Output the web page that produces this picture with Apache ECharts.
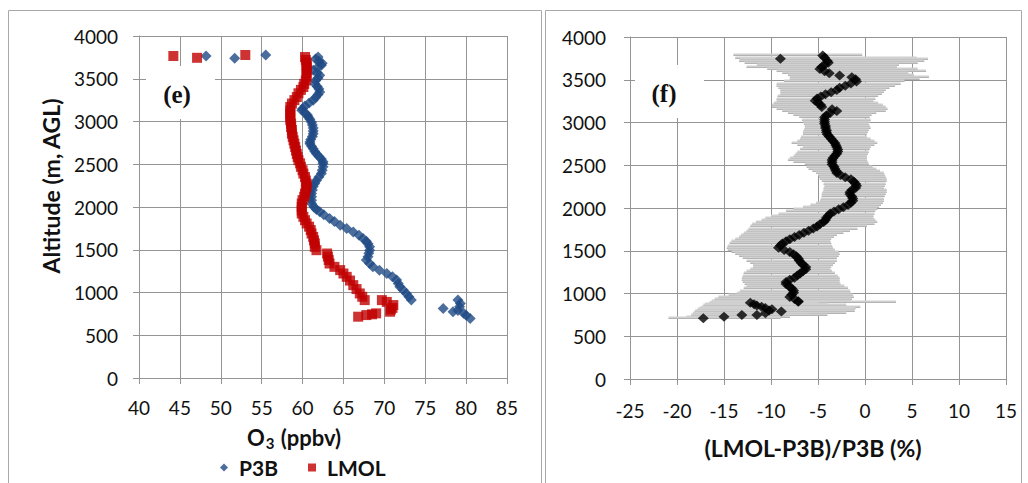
<!DOCTYPE html>
<html>
<head>
<meta charset="utf-8">
<script src="https://cdn.jsdelivr.net/npm/echarts@6/dist/echarts.min.js"></script>
<style>
  html, body { margin: 0; padding: 0; background: #fff; }
  #chart { width: 1028px; height: 483px; }
</style>
</head>
<body>
<div id="chart"></div>
<script>
// ---- Panel (e): ozone profiles, each point is [O3 ppbv, altitude m AGL] ----
const p3bProfile = [
  [55.5,3778],[48.2,3766],[51.7,3740],
  [61.9,3754],[61.6,3730],[62.0,3705],[62.4,3680],[62.3,3657],[61.8,3630],[61.3,3598],
  [61.8,3570],[62.1,3540],[61.9,3510],[61.6,3480],[61.5,3442],[61.8,3410],[62.0,3380],
  [62.1,3345],[61.9,3315],[61.6,3280],[61.3,3248],[60.8,3215],[60.3,3180],[60.0,3150],
  [59.9,3131],[60.3,3100],[60.6,3075],[60.7,3053],[60.9,3025],[61.1,2990],[61.2,2960],
  [61.3,2925],[61.3,2890],[61.3,2858],[61.2,2825],[61.0,2790],[60.9,2760],[60.9,2741],
  [61.1,2710],[61.3,2680],[61.5,2650],[61.7,2624],[62.0,2590],[62.3,2560],[62.5,2530],
  [62.5,2508],[62.5,2470],[62.4,2430],[62.3,2391],[62.0,2350],[61.7,2310],[61.5,2274],
  [61.3,2240],[61.2,2200],[61.1,2157],[61.1,2120],[61.1,2080],[61.1,2040],[61.4,2000],
  [61.7,1970],[62.1,1943],[62.6,1910],[63.3,1866],[63.9,1830],[64.6,1787],[65.4,1750],
  [66.2,1709],[66.9,1670],[67.4,1632],[67.8,1600],[68.0,1570],[68.2,1534],[68.2,1495],
  [68.1,1460],[68.0,1417],[67.8,1379],[68.2,1340],[68.6,1300],[69.4,1260],[70.3,1222],
  [71.0,1185],[71.5,1145],[71.7,1105],[71.9,1067],[72.3,1030],[72.7,989],[73.0,950],
  [73.3,911],
  [79.0,911],[79.3,870],[79.2,833],[77.2,814],[79.0,790],[78.4,775],[79.7,756],
  [80.0,735],[80.5,697]
];

const lmolProfile = [
  [53.0,3778],[44.2,3766],[47.1,3745],
  [60.3,3754],[60.4,3720],[60.5,3690],[60.5,3660],[60.5,3637],[60.5,3600],[60.5,3560],
  [60.5,3520],[60.4,3480],[60.2,3440],[60.1,3403],[59.8,3370],[59.5,3330],[59.3,3286],
  [59.0,3250],[58.7,3210],[58.5,3170],[58.5,3130],[58.5,3090],[58.5,3050],[58.5,3014],
  [58.6,2975],[58.6,2935],[58.7,2900],[58.7,2858],[58.8,2820],[58.9,2780],[59.0,2740],
  [59.1,2702],[59.2,2660],[59.3,2620],[59.4,2585],[59.5,2547],[59.7,2510],[59.8,2470],
  [60.0,2430],[60.1,2391],[60.3,2350],[60.4,2310],[60.5,2274],[60.5,2240],[60.4,2200],
  [60.3,2157],[60.2,2120],[60.0,2080],[59.9,2040],[59.9,2000],[59.9,1960],[59.9,1924],
  [60.1,1885],[60.3,1845],[60.5,1807],[60.8,1770],[61.0,1730],[61.1,1690],[61.3,1650],
  [61.4,1610],[61.5,1574],[61.5,1534],[61.7,1495],
  [63.0,1456],[63.1,1420],[63.2,1380],[63.3,1339],[63.9,1300],[64.6,1262],[65.0,1222],
  [65.4,1183],[65.8,1140],[66.2,1086],[66.6,1040],[67.0,989],[67.3,950],[67.6,911],
  [69.7,911],[70.3,890],[71.1,853],[71.0,820],[70.8,800],[70.7,775],[69.0,756],
  [68.5,745],[67.8,736],[66.8,717]
];

// ---- Panel (f): relative difference (%), rows are [altitude m, difference, range low, range high] ----
const diffRows = [
  [3785,-4.5,-14.0,-0.3],[3760,-4.3,-13.8,5.5],[3746,-9.0,-13.3,6.7],[3720,-4.0,-13.4,6.3],
  [3700,-3.9,-12.8,5.6],[3675,-4.3,-11.5,3.6],[3650,-4.6,-12.6,3.4],[3625,-4.8,-10.4,5.6],
  [3600,-4.3,-9.4,6.5],[3575,-3.8,-8.8,4.6],[3550,-2.7,-8.2,5.2],[3530,-1.4,-8.0,6.8],
  [3505,-1.0,-8.0,5.8],[3480,-0.9,-8.6,4.2],[3455,-1.5,-9.4,3.8],[3430,-2.1,-9.4,3.2],
  [3405,-2.7,-9.2,2.6],[3380,-3.0,-9.0,2.2],[3355,-3.6,-9.0,2.0],[3330,-4.2,-9.0,1.8],
  [3305,-4.7,-9.3,1.4],[3280,-5.1,-9.4,1.1],[3255,-5.3,-9.4,0.9],[3230,-5.0,-9.7,1.4],
  [3205,-4.7,-9.9,1.9],[3180,-4.6,-9.9,2.2],[3155,-3.5,-9.4,2.4],[3135,-3.0,-8.8,2.2],
  [3110,-3.7,-8.2,1.2],[3085,-4.1,-7.6,0.7],[3060,-4.3,-7.0,0.5],[3035,-4.3,-6.7,0.6],
  [3010,-4.3,-6.6,0.5],[2985,-4.3,-6.5,0.4],[2960,-4.2,-6.4,0.5],[2935,-4.2,-6.4,0.6],
  [2910,-4.1,-6.5,0.4],[2885,-4.1,-6.6,0.3],[2860,-4.0,-6.6,0.2],[2835,-3.8,-6.8,0.2],
  [2810,-3.6,-6.9,0.6],[2785,-3.4,-7.2,1.0],[2760,-3.2,-7.8,1.3],[2735,-3.1,-7.2,1.0],
  [2710,-3.0,-6.6,0.6],[2685,-2.9,-6.9,0.5],[2660,-2.9,-7.2,0.4],[2635,-3.0,-7.4,0.3],
  [2610,-3.2,-7.6,0.2],[2585,-3.4,-8.0,0.2],[2560,-3.5,-8.2,0.2],[2535,-3.5,-7.6,0.3],
  [2510,-3.5,-6.4,0.4],[2485,-3.3,-6.2,0.8],[2460,-3.2,-6.0,1.2],[2435,-3.1,-5.6,1.6],
  [2410,-3.0,-5.2,2.0],[2385,-2.6,-5.0,2.1],[2360,-2.1,-4.9,2.2],[2335,-1.5,-4.8,2.3],
  [2310,-1.2,-4.6,2.3],[2285,-1.0,-4.4,2.2],[2260,-0.9,-4.3,2.1],[2235,-1.0,-4.4,2.0],
  [2210,-1.4,-4.4,2.3],[2185,-1.6,-4.5,2.3],[2160,-1.6,-4.6,2.2],[2135,-1.4,-4.6,2.1],
  [2110,-1.3,-4.7,2.0],[2085,-1.3,-4.8,2.0],[2060,-1.5,-5.2,1.9],[2035,-1.8,-5.8,1.7],
  [2010,-2.3,-6.6,1.5],[1985,-2.8,-7.6,1.3],[1960,-3.3,-8.4,1.1],[1935,-3.7,-9.2,1.0],
  [1910,-3.9,-10.0,0.9],[1885,-4.1,-10.6,0.9],[1860,-4.2,-11.0,1.1],[1835,-4.4,-11.6,1.3],
  [1810,-4.8,-12.0,1.0],[1785,-5.1,-12.2,0.2],[1760,-5.5,-12.4,-0.8],[1735,-6.0,-12.6,-1.6],
  [1710,-6.5,-12.9,-2.3],[1685,-7.0,-13.2,-3.0],[1660,-7.5,-13.4,-3.3],[1635,-8.0,-13.8,-3.6],
  [1610,-8.4,-14.2,-3.7],[1585,-8.8,-14.4,-3.6],[1560,-9.0,-14.6,-3.5],[1535,-9.2,-14.7,-3.4],
  [1510,-8.6,-14.6,-3.2],[1485,-8.0,-14.2,-2.8],[1460,-7.6,-13.8,-2.7],[1435,-7.3,-13.4,-2.8],
  [1410,-7.1,-13.0,-3.0],[1385,-7.0,-12.6,-3.0],[1360,-6.8,-12.2,-3.2],[1335,-6.6,-11.9,-3.4],
  [1310,-6.3,-11.9,-3.6],[1285,-6.3,-12.2,-3.7],[1260,-6.6,-12.6,-3.5],[1235,-6.9,-12.9,-3.2],
  [1210,-7.2,-13.0,-2.9],[1185,-7.5,-13.1,-2.7],[1160,-8.0,-13.1,-2.7],[1135,-8.4,-13.0,-2.7],
  [1110,-8.4,-12.8,-2.6],[1085,-8.1,-12.6,-2.2],[1060,-7.8,-12.9,-1.8],[1035,-7.6,-13.3,-1.6],
  [1010,-7.6,-13.6,-1.5],[985,-7.8,-14.5,-1.3],[960,-8.0,-15.6,-1.2],[935,-7.5,-16.0,-1.4],
  [910,-7.1,-16.3,-1.5],[903,-7.1,-16.4,3.3],
  [891,-12.2,-16.6,-5.0],[875,-11.8,-17.0,-4.0],[860,-11.5,-17.2,-2.0],[845,-11.0,-17.4,-0.5],
  [830,-10.6,-17.6,-1.0],[815,-9.9,-17.8,-1.1],[800,-10.2,-18.0,-1.2],[790,-8.9,-18.1,-1.1],
  [770,-10.6,-18.3,-2.0],[750,-11.5,-18.4,-4.0],[748,-13.1,-18.5,-6.0],[728,-15.0,-19.0,-8.0],
  [710,-17.2,-20.9,-9.0]
];

// Axis ranges
const altRange = { min: 0, max: 4000, step: 500 };
const o3Range = { min: 40, max: 85, step: 5 };
const diffRange = { min: -25, max: 15, step: 5 };

const BASE_FONT = 'Lato, "Open Sans", sans-serif';
const GRID_GRAY = '#949494';
const P3B_BLUE = '#1F4A85';
const LMOL_RED = '#C00000';

function valueAxis(range, gridIndex, labelMargin) {
  return {
    type: 'value', gridIndex,
    min: range.min, max: range.max, interval: range.step,
    axisLine: { show: true, onZero: false, lineStyle: { color: GRID_GRAY, width: 1 } },
    axisTick: { show: true, inside: false, length: 6, lineStyle: { color: GRID_GRAY } },
    axisLabel: {
      color: '#111', fontFamily: BASE_FONT, fontSize: 19, margin: labelMargin,
      formatter: v => String(v)
    },
    splitLine: { show: true, lineStyle: { color: GRID_GRAY, width: 1 } }
  };
}

const chart = echarts.init(document.getElementById('chart'), null, { renderer: 'svg' });

chart.setOption({
  backgroundColor: '#fff',
  animation: false,
  grid: [
    { left: 139, top: 36, width: 368, height: 342 },
    { left: 630, top: 37, width: 376, height: 342 }
  ],
  xAxis: [ valueAxis(o3Range, 0, 20), valueAxis(diffRange, 1, 22) ],
  yAxis: [ valueAxis(altRange, 0, 21), valueAxis(altRange, 1, 24) ],
  legend: {
    data: [ { name: 'P3B', icon: 'diamond' }, { name: 'LMOL', icon: 'rect' } ],
    left: 215, top: 452,
    itemWidth: 8, itemHeight: 8, itemGap: 30,
    textStyle: { fontFamily: BASE_FONT, fontSize: 21, fontWeight: 'bold', color: '#111', padding: [0, 0, 0, 6] }
  },
  graphic: [
    // panel frames
    { type: 'rect', z: 10, silent: true, shape: { x: 8.5, y: 10.5, width: 533, height: 490 },
      style: { fill: 'none', stroke: '#a8a8a8', lineWidth: 1 } },
    { type: 'rect', z: 10, silent: true, shape: { x: 545.5, y: 10.5, width: 476, height: 490 },
      style: { fill: 'none', stroke: '#a8a8a8', lineWidth: 1 } },
    // panel tags on white boxes
    { type: 'rect', z: 10, silent: true, shape: { x: 146, y: 66, width: 69, height: 53 }, style: { fill: '#fff' } },
    { type: 'text', z: 11, silent: true, x: 177, y: 94,
      style: { text: '(e)', font: 'bold 25px "Liberation Serif", "Times New Roman", serif', fill: '#111', align: 'center', verticalAlign: 'middle' } },
    { type: 'rect', z: 10, silent: true, shape: { x: 635, y: 65, width: 69, height: 53 }, style: { fill: '#fff' } },
    { type: 'text', z: 11, silent: true, x: 664, y: 93,
      style: { text: '(f)', font: 'bold 25px "Liberation Serif", "Times New Roman", serif', fill: '#111', align: 'center', verticalAlign: 'middle' } },
    // axis titles
    { type: 'text', z: 11, silent: true, x: 51, y: 186, rotation: Math.PI / 2,
      style: { text: 'Altitude (m, AGL)', font: 'bold 23px ' + BASE_FONT, fill: '#111', align: 'center', verticalAlign: 'middle' } },
    { type: 'text', z: 11, silent: true, x: 294, y: 437,
      style: {
        text: '{a|O}{s|3}{a| (ppbv)}', align: 'center', verticalAlign: 'middle',
        rich: {
          a: { fontFamily: BASE_FONT, fontSize: 22, fontWeight: 'bold', fill: '#111' },
          s: { fontFamily: BASE_FONT, fontSize: 15, fontWeight: 'bold', fill: '#111', padding: [12, 1, 0, 1] }
        }
      } },
    { type: 'text', z: 11, silent: true, x: 813, y: 448,
      style: { text: '(LMOL-P3B)/P3B (%)', font: 'bold 23px ' + BASE_FONT, fill: '#111', align: 'center', verticalAlign: 'middle' } }
  ],
  series: [
    {
      name: 'P3B', type: 'scatter', xAxisIndex: 0, yAxisIndex: 0,
      symbol: 'diamond', symbolSize: 11,
      itemStyle: { color: P3B_BLUE },
      data: p3bProfile, z: 3
    },
    {
      name: 'LMOL', type: 'scatter', xAxisIndex: 0, yAxisIndex: 0,
      symbol: 'rect', symbolSize: 10,
      itemStyle: { color: LMOL_RED },
      data: lmolProfile, z: 4
    },
    {
      // range of the relative difference at each altitude
      name: 'range', type: 'custom', xAxisIndex: 1, yAxisIndex: 1,
      data: diffRows.map(r => [r[2], r[3], r[0]]),
      encode: { x: [0, 1], y: 2 },
      renderItem: function (params, api) {
        const a = api.coord([api.value(0), api.value(2)]);
        const b = api.coord([api.value(1), api.value(2)]);
        const yc = Math.round(a[1]);
        return {
          type: 'group',
          children: [
            { type: 'rect', shape: { x: a[0], y: yc - 1.5, width: b[0] - a[0], height: 2.6 }, style: { fill: '#d0d0d0' } },
            { type: 'line', shape: { x1: a[0], y1: yc + 0.5, x2: b[0], y2: yc + 0.5 }, style: { stroke: '#b4b4b4', lineWidth: 1 } }
          ]
        };
      },
      z: 2
    },
    {
      name: 'difference', type: 'scatter', xAxisIndex: 1, yAxisIndex: 1,
      symbol: 'diamond', symbolSize: [11, 10],
      itemStyle: { color: '#000' },
      data: diffRows.map(r => [r[1], r[0]]), z: 4
    }
  ]
});
</script>
</body>
</html>
